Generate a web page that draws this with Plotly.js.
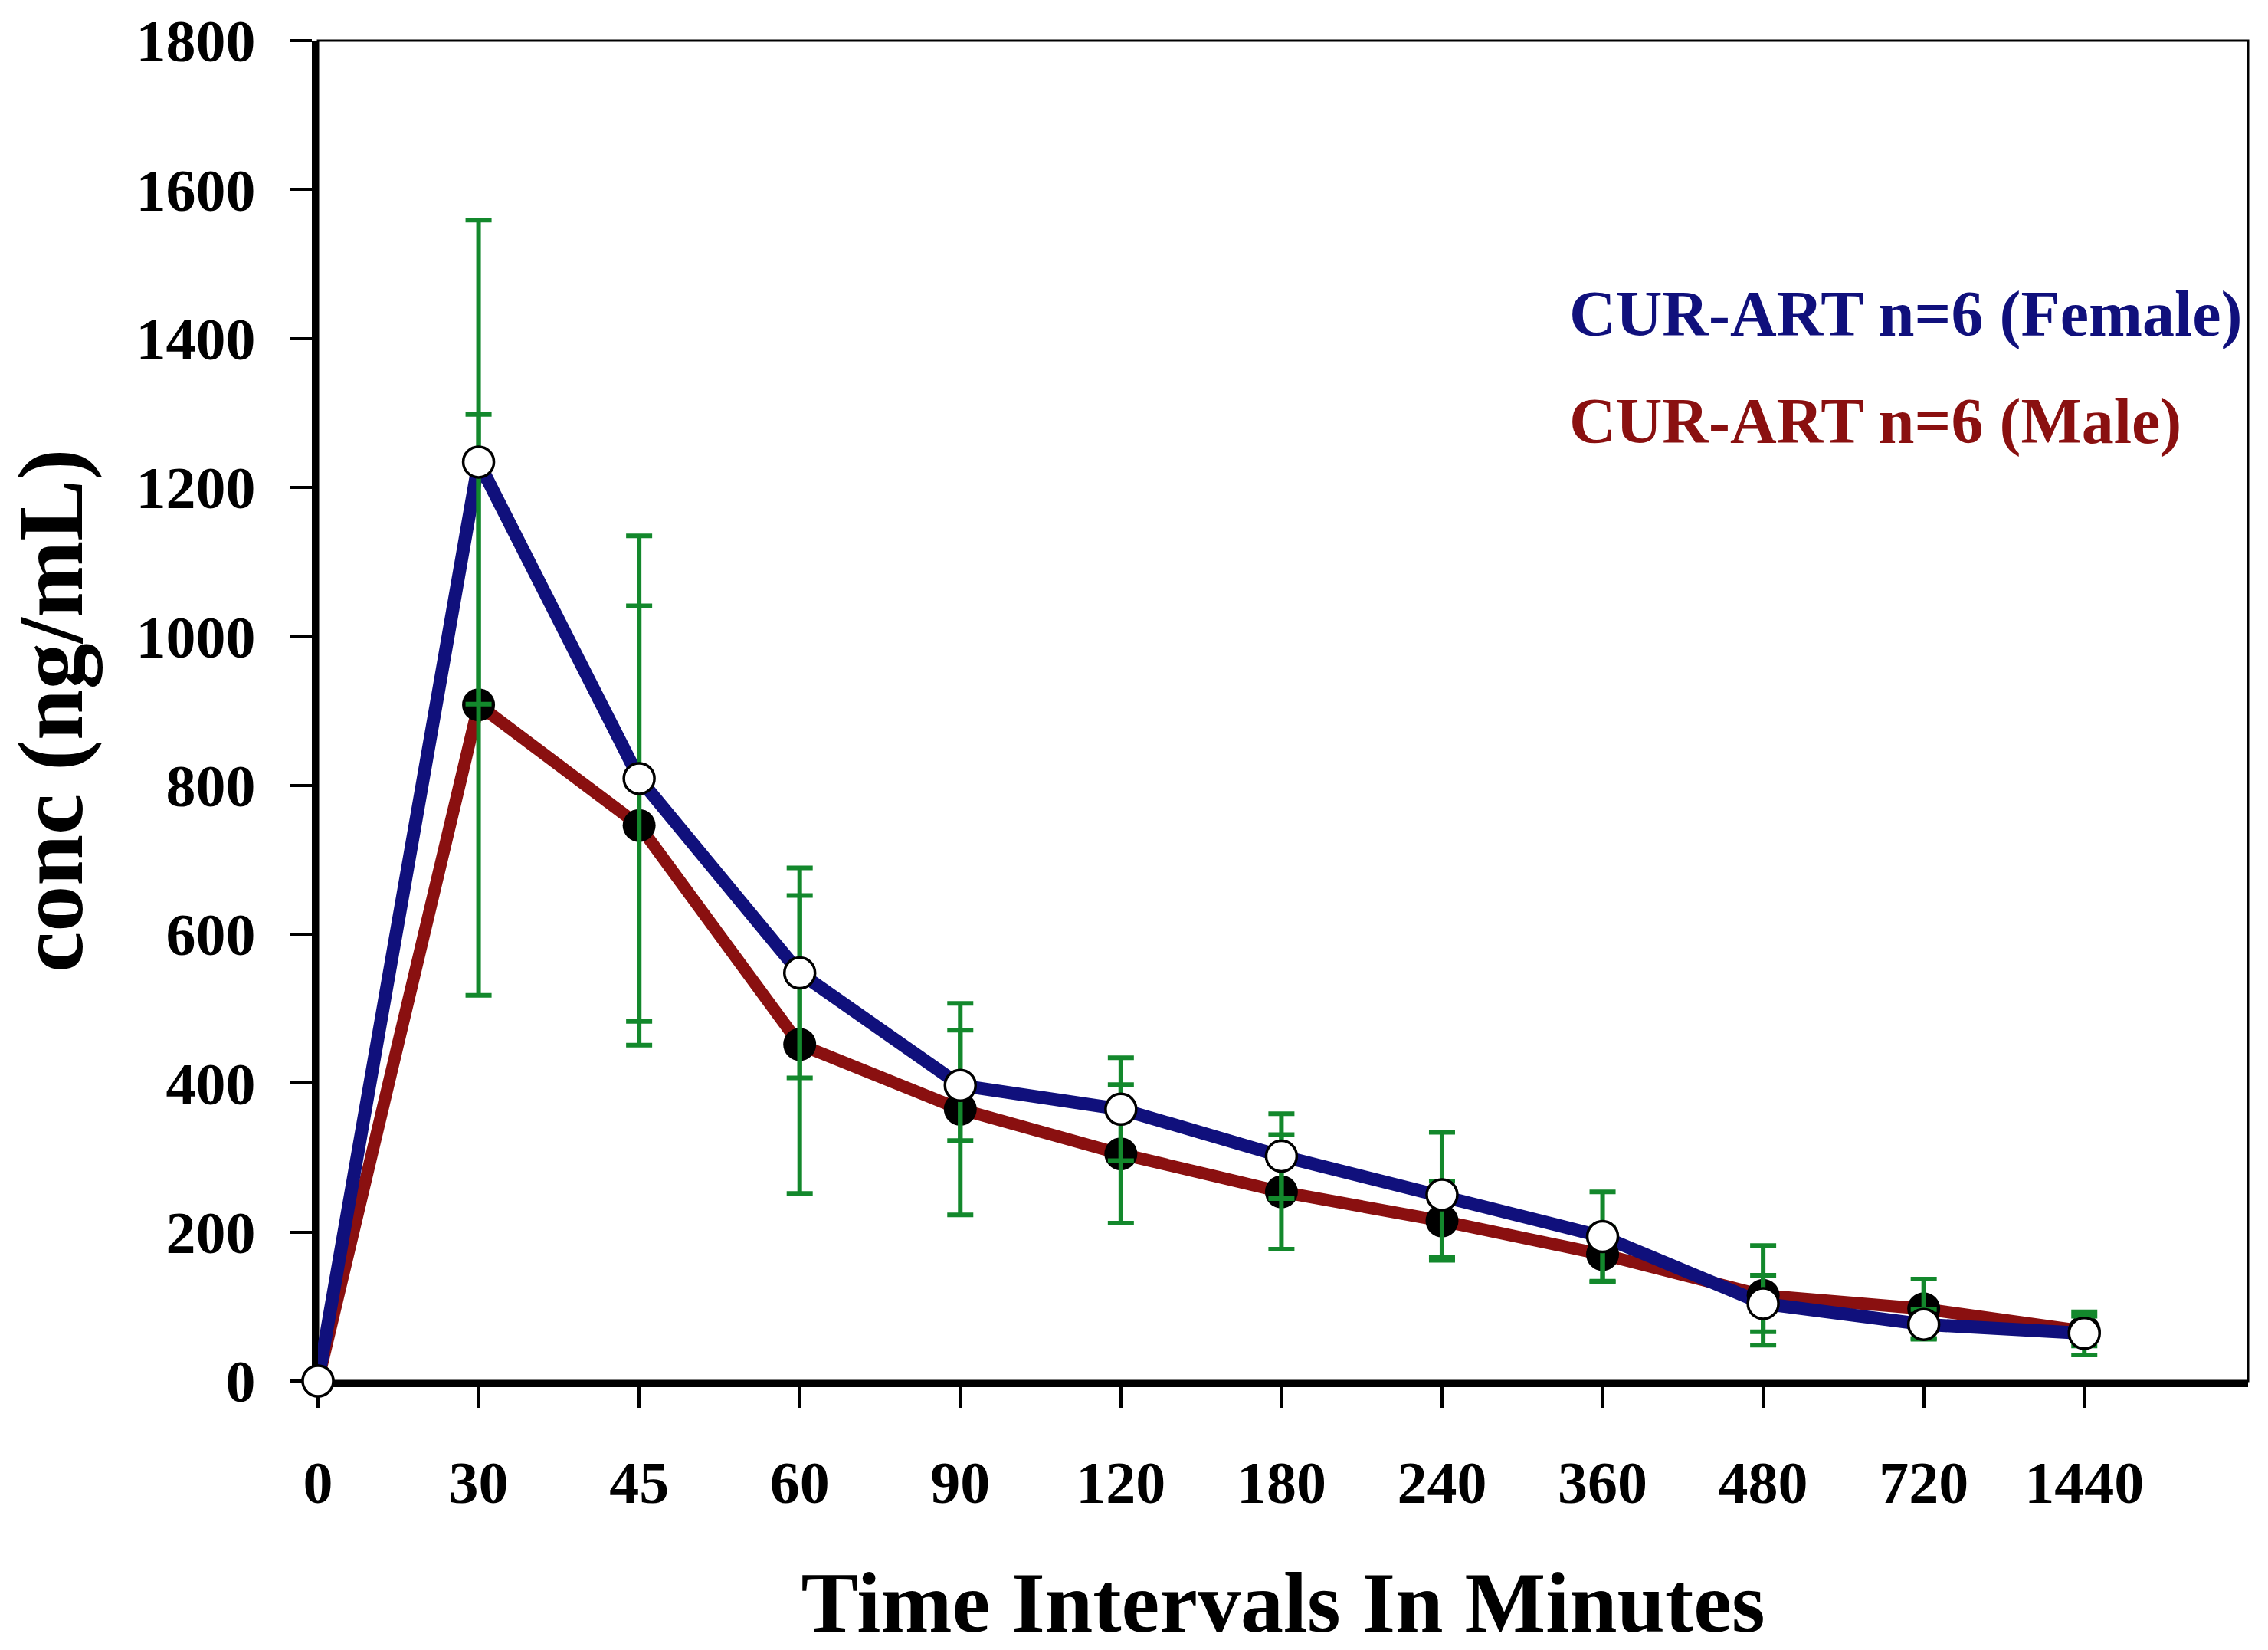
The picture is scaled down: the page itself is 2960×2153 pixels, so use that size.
<!DOCTYPE html>
<html>
<head>
<meta charset="utf-8">
<script src="https://cdn.plot.ly/plotly-3.0.1.min.js"></script>
<style>
    html, body { margin: 0; padding: 0; background: #fff; }
    #chart { width: 2960px; height: 2153px; }
</style>
</head>
<body>
<div id="chart"></div>
<script>
// time points (minutes), drawn equally spaced
const timeLabels = ['0', '30', '45', '60', '90', '120', '180', '240', '360', '480', '720', '1440'];

// CUR-ART n=6 (Female): mean and SD, ng/mL
const femaleMean = [0, 1234, 809, 548, 397, 365, 302, 250, 194, 104, 76, 64];
const femaleSd = [0, 325, 326, 141, 74, 69, 57, 84, 60, 38, 20, 29];

// CUR-ART n=6 (Male): mean and SD, ng/mL
const maleMean = [0, 908, 746, 452, 365, 305, 254, 215, 170, 115, 97, 67];
const maleSd = [0, 390, 295, 200, 142, 93, 77, 53, 37, 67, 40, 20];

const yTicks = [0, 200, 400, 600, 800, 1000, 1200, 1400, 1600, 1800];

const legendNames = ['CUR-ART n=6 (Female)', 'CUR-ART n=6 (Male)'];

const xPos = timeLabels.map((_, i) => i);

const serif = 'Liberation Serif, Times New Roman, serif';
const blue = '#10107c';
const red = '#8a1010';
const green = '#13882c';

function errorTrace(mean, sd) {
    return {
        type: 'scatter',
        mode: 'markers',
        x: xPos,
        y: mean,
        marker: {size: 1, opacity: 0},
        error_y: {type: 'data', array: sd, visible: true, color: green, thickness: 6, width: 17},
        cliponaxis: false,
        hoverinfo: 'skip',
        showlegend: false,
    };
}

const traces = [
    {
        type: 'scatter',
        mode: 'lines',
        x: xPos,
        y: maleMean,
        line: {color: red, width: 16},
        cliponaxis: false,
        showlegend: false,
    },
    {
        type: 'scatter',
        mode: 'lines',
        x: xPos,
        y: femaleMean,
        line: {color: blue, width: 17},
        cliponaxis: false,
        showlegend: false,
    },
    {
        type: 'scatter',
        mode: 'markers',
        x: xPos,
        y: maleMean,
        marker: {color: '#000', size: 43, line: {width: 0}},
        cliponaxis: false,
        showlegend: false,
    },
    errorTrace(maleMean, maleSd),
    errorTrace(femaleMean, femaleSd),
    {
        type: 'scatter',
        mode: 'markers',
        x: xPos,
        y: femaleMean,
        marker: {color: '#fff', size: 40, line: {color: '#000', width: 3.5}},
        cliponaxis: false,
        showlegend: false,
    },
];

const layout = {
    width: 2960,
    height: 2153,
    paper_bgcolor: '#fff',
    plot_bgcolor: '#fff',
    showlegend: false,
    margin: {l: 415, r: 26, t: 53, b: 351, pad: 0},
    font: {family: serif, color: '#000'},
    xaxis: {
        range: [0, 12.02],
        tickvals: xPos,
        ticktext: timeLabels,
        showgrid: false,
        zeroline: false,
        showline: true,
        linecolor: '#000',
        linewidth: 8,
        ticks: 'outside',
        ticklen: 27,
        tickwidth: 4,
        tickcolor: '#000',
        ticklabelstandoff: 30,
        tickfont: {family: serif, size: 78, weight: 'bold', color: '#000'},
        layer: 'below traces',
        title: {
            text: 'Time Intervals In Minutes',
            font: {family: serif, size: 112, weight: 'bold', color: '#000'},
            standoff: 90,
        },
    },
    yaxis: {
        range: [0, 1800],
        tickvals: yTicks,
        showgrid: false,
        zeroline: false,
        showline: true,
        linecolor: '#000',
        linewidth: 8,
        ticks: 'outside',
        ticklen: 28,
        tickwidth: 4,
        tickcolor: '#000',
        ticklabelstandoff: 30,
        tickfont: {family: serif, size: 78, weight: 'bold', color: '#000'},
        layer: 'below traces',
        title: {
            text: 'conc (ng/mL)',
            font: {family: serif, size: 120, weight: 'bold', color: '#000'},
            standoff: 62,
        },
    },
    shapes: [
        {
            type: 'rect',
            xref: 'paper', yref: 'paper',
            x0: 0, x1: 1, y0: 0, y1: 1,
            line: {color: '#000', width: 3},
            layer: 'below',
        },
    ],
    annotations: [
        {
            xref: 'paper', yref: 'paper',
            x: 0.6475, y: 0.796,
            xanchor: 'left', yanchor: 'middle',
            showarrow: false,
            text: legendNames[0],
            font: {family: serif, size: 84, weight: 'bold', color: blue},
        },
        {
            xref: 'paper', yref: 'paper',
            x: 0.6475, y: 0.716,
            xanchor: 'left', yanchor: 'middle',
            showarrow: false,
            text: legendNames[1],
            font: {family: serif, size: 84, weight: 'bold', color: red},
        },
    ],
};

Plotly.newPlot('chart', traces, layout, {displayModeBar: false, staticPlot: true});
</script>
</body>
</html>
